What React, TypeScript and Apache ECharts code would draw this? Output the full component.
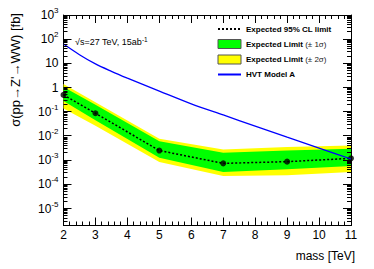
import React, { useEffect, useRef } from "react";
import * as echarts from "echarts";

// ---- data ----
const massPoints = [2, 3, 5, 7, 9, 11];
const expectedLimit = [0.5, 0.087, 0.0025, 0.00074, 0.00087, 0.00119];
const plus1Sigma = [1.05, 0.196, 0.0061, 0.00204, 0.00254, 0.00298];
const minus1Sigma = [0.279, 0.0451, 0.00127, 0.000323, 0.000418, 0.000571];
const plus2Sigma = [1.4, 0.249, 0.0077, 0.00279, 0.00347, 0.00407];
const minus2Sigma = [0.137, 0.0267, 0.00084, 0.000221, 0.000236, 0.000323];

const hvtMass = [2, 2.5, 3, 3.5, 4, 4.5, 5, 6, 7, 8, 9, 10, 11];
const hvtXsec = [63, 22.9, 9.5, 4.7, 2.45, 1.32, 0.72, 0.214, 0.074, 0.0257, 0.0089, 0.00316, 0.00112];

const xTickLabels = [2, 3, 4, 5, 6, 7, 8, 9, 10, 11];
const yDecades = [-5, -4, -3, -2, -1, 0, 1, 2, 3];
const xMin = 2;
const xMax = 11;
const yMinValue = 2e-6;
const yMaxValue = 1000;

const FONT = "'Liberation Sans', Arial, Helvetica, sans-serif";

const lg = (v: number) => Math.log10(v);
const yMin = lg(yMinValue);
const yMax = lg(yMaxValue);

// axis furniture: minor tick positions
const xMinorTicks: number[] = [];
for (let i = 0; i < xTickLabels.length - 1; i++) {
  for (let k = 1; k < 5; k++) xMinorTicks.push(xTickLabels[i] + k * 0.2);
}
const yMinorTicks: number[] = [];
for (let n = -6; n <= 2; n++) {
  for (let k = 2; k <= 9; k++) {
    const v = lg(k * Math.pow(10, n));
    if (v > yMin && v < yMax) yMinorTicks.push(v);
  }
}

function bandSeries(name: string, upper: number[], lower: number[], color: string, z: number) {
  return {
    type: "custom",
    name,
    z,
    itemStyle: { color },
    data: massPoints.map((m, i) => [m, lg(upper[i]), lg(lower[i])]),
    encode: { x: 0, y: [1, 2] },
    renderItem: (params: any, api: any) => {
      if (params.dataIndex !== 0) return null;
      const pts: number[][] = [];
      for (let i = 0; i < massPoints.length; i++) pts.push(api.coord([massPoints[i], lg(upper[i])]));
      for (let i = massPoints.length - 1; i >= 0; i--) pts.push(api.coord([massPoints[i], lg(lower[i])]));
      return { type: "polygon", shape: { points: pts }, style: { fill: color, stroke: null } };
    },
  };
}

const crisp = (v: number) => Math.round(v - 0.5) + 0.5;

function tickSeries() {
  return {
    type: "custom",
    name: "frame ticks",
    z: 6,
    silent: true,
    data: [[xMin, 0]],
    encode: { x: 0, y: 1 },
    renderItem: (params: any, api: any) => {
      const children: any[] = [];
      const st = { stroke: "#000", lineWidth: 1 };
      const add = (x1: number, y1: number, x2: number, y2: number) =>
        children.push({ type: "line", shape: { x1, y1, x2, y2 }, style: st });
      const xt = (x: number, len: number) => {
        const b = api.coord([x, yMin]);
        const t = api.coord([x, yMax]);
        const px = crisp(b[0]);
        add(px, b[1], px, b[1] - len);
        add(px, t[1], px, t[1] + len);
      };
      const yt = (y: number, len: number) => {
        const l = api.coord([xMin, y]);
        const r = api.coord([xMax, y]);
        const py = crisp(l[1]);
        add(l[0], py, l[0] + len, py);
        add(r[0], py, r[0] - len, py);
      };
      xTickLabels.forEach((x) => xt(x, 8));
      xMinorTicks.forEach((x) => xt(x, 4));
      yDecades.forEach((y) => yt(y, 8));
      yMinorTicks.forEach((y) => yt(y, 4));
      return { type: "group", children };
    },
  };
}

export default function App() {
  const ref = useRef<HTMLDivElement>(null);
  useEffect(() => {
    if (!ref.current) return;
    const chart = echarts.init(ref.current, undefined, { renderer: "svg" });
    const black = "#000";
    const xCommon = {
      type: "value",
      min: xMin,
      max: xMax,
      interval: 1,
      splitLine: { show: false },
      axisLine: { show: true, onZero: false, lineStyle: { color: black, width: 1 } },
      axisTick: { show: false },
      minorTick: { show: false },
    };
    const yCommon = {
      type: "value",
      min: yMin,
      max: yMax,
      splitLine: { show: false },
      axisLine: { show: true, onZero: false, lineStyle: { color: black, width: 1 } },
      axisTick: { show: false },
    };
    const hideSymbol = { itemStyle: { opacity: 0 } };
    const option: any = {
      animation: false,
      backgroundColor: "#fff",
      textStyle: { fontFamily: FONT },
      grid: { left: 63.5, right: 23, top: 15, bottom: 43.5, outerBoundsMode: "none", containLabel: false },
      legend: {
        orient: "vertical",
        left: 217,
        top: 24.5,
        padding: 0,
        itemWidth: 23,
        itemHeight: 9,
        itemGap: 5.5,
        selectedMode: false,
        textStyle: {
          fontFamily: FONT,
          fontSize: 8,
          fontWeight: "bold",
          color: black,
          lineHeight: 9,
          rich: { n: { fontFamily: FONT, fontSize: 8, lineHeight: 9, fontWeight: "normal", color: "#222" } },
        },
        formatter: (name: string) => {
          const m = name.match(/^(.*?)(\(.*\))$/);
          return m ? `${m[1]}{n|${m[2]}}` : name;
        },
        data: [
          { name: "Expected 95% CL limit", ...hideSymbol },
          { name: "Expected Limit (± 1σ)", icon: "rect", itemStyle: { borderColor: "#555", borderWidth: 1 } },
          { name: "Expected Limit (± 2σ)", icon: "rect", itemStyle: { borderColor: "#555", borderWidth: 1 } },
          { name: "HVT Model A", ...hideSymbol },
        ],
      },
      xAxis: [
        {
          ...xCommon,
          position: "bottom",
          axisLabel: {
            show: true,
            margin: 3,
            fontSize: 12,
            color: black,
            fontFamily: FONT,
            showMinLabel: true,
            showMaxLabel: true,
            formatter: (v: number) => (xTickLabels.includes(v) ? String(v) : ""),
          },
        },
        { ...xCommon, position: "top", axisLabel: { show: false } },
      ],
      yAxis: [
        {
          ...yCommon,
          position: "left",
          axisLabel: {
            show: true,
            customValues: yDecades,
            margin: 5,
            color: black,
            fontFamily: FONT,
            formatter: (v: number) => {
              const n = Math.round(v);
              if (n === 0) return "{b|1}";
              if (n === 1) return "{b|10}";
              return `{b|10}{s|${n}}`;
            },
            rich: {
              b: { fontSize: 12, lineHeight: 12, fontFamily: FONT, color: black },
              s: { fontSize: 8, lineHeight: 8, padding: [0, 0, 9, 0], fontFamily: FONT, color: black },
            },
          },
        },
        { ...yCommon, position: "right", axisLabel: { show: false } },
      ],
      series: [
        bandSeries("Expected Limit (± 2σ)", plus2Sigma, minus2Sigma, "#ffff00", 1),
        bandSeries("Expected Limit (± 1σ)", plus1Sigma, minus1Sigma, "#00ff00", 2),
        {
          type: "line",
          name: "Expected 95% CL limit",
          z: 3,
          symbol: "none",
          data: massPoints.map((m, i) => [m, lg(expectedLimit[i])]),
          lineStyle: { color: black, width: 1.5, type: [2, 2] },
          itemStyle: { color: black },
        },
        {
          type: "scatter",
          name: "points",
          z: 4,
          symbol: "circle",
          symbolSize: 6,
          data: massPoints.map((m, i) => [m, lg(expectedLimit[i])]),
          itemStyle: { color: black },
        },
        {
          type: "line",
          name: "HVT Model A",
          z: 5,
          symbol: "none",
          smooth: 0.3,
          data: hvtMass.map((m, i) => [m, lg(hvtXsec[i])]),
          lineStyle: { color: "#0000ff", width: 1.3 },
          itemStyle: { color: "#0000ff" },
        },
        tickSeries(),
      ],
      graphic: [
        {
          type: "text",
          x: 15,
          y: 13,
          rotation: Math.PI / 2,
          style: {
            text: "σ(pp→Z'→WW) [fb]",
            font: `13px ${FONT}`,
            fill: black,
            align: "right",
            verticalAlign: "middle",
          },
        },
        {
          type: "text",
          x: 355,
          y: 256,
          style: {
            text: "mass [TeV]",
            font: `12px ${FONT}`,
            fill: black,
            align: "right",
            verticalAlign: "middle",
          },
        },
        {
          type: "text",
          x: 75,
          y: 42,
          style: {
            text: "{a|√s=27 TeV, 15ab}{s|-1}",
            fill: black,
            align: "left",
            verticalAlign: "middle",
            rich: {
              a: { fontSize: 9, lineHeight: 9, fontFamily: FONT, fill: black },
              s: { fontSize: 6.5, lineHeight: 6.5, padding: [0, 0, 6, 0], fontFamily: FONT, fill: black },
            },
          },
        },
      ],
    };
    chart.setOption(option);
    return () => chart.dispose();
  }, []);
  return (
    <div
      ref={ref}
      style={{ position: "fixed", left: 0, top: 0, width: "374px", height: "269px" }}
    />
  );
}
